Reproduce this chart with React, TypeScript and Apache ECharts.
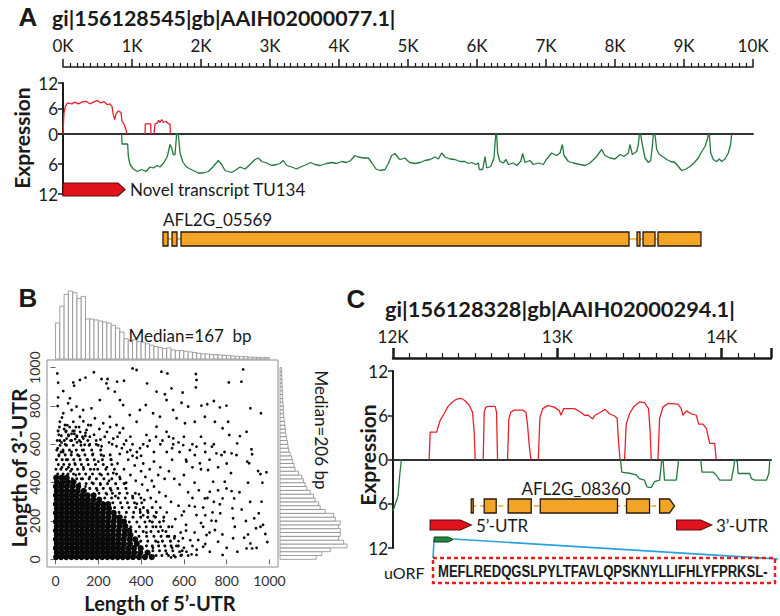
import React, { useEffect, useRef } from "react";
import * as echarts from "echarts";

const FONT = "Lato, 'Open Sans', 'DejaVu Sans', sans-serif";
const ARIAL = "'Liberation Sans', Arial, sans-serif";
const RED = "#E2232B";
const GREEN = "#23793E";
const ORANGE = "#F3A426";
const DARK = "#2A1A0C";
const ARROW_RED = "#E1121C";
const ARROW_EDGE = "#5E0B0B";
const INK = "#1a1a1a";
const BLUE = "#2AA3DC";

// ---------------- Panel A data ----------------
const A_TITLE = "gi|156128545|gb|AAIH02000077.1|";
const A_RANGE = [0, 10000];
const A_PLUS: (number | string)[][] = [
  [0, 0], [14, 4.9], [34, 6.5], [63, 7.3], [126, 7.1], [174, 7.5], [222, 7.1], [271, 7.5], [333, 7.7],
  [391, 7.1], [440, 7.5], [498, 7.9], [546, 7.3], [594, 7.6], [643, 6.9], [681, 7.1], [710, 6.5],
  [729, 4.5], [749, 3.4], [768, 4.8], [802, 5.4], [841, 5.1], [855, 3.0], [889, 2.2], [913, 1.0], [928, 0],
  [1000, "-"],
  [1188, 0], [1193, 2.4], [1271, 2.4], [1275, 0], [1297, "-"], [1319, 0], [1333, 2.4], [1367, 2.6],
  [1386, 3.2], [1406, 2.7], [1430, 3.4], [1454, 2.7], [1493, 3.0], [1527, 2.4], [1551, 2.4], [1556, 0],
];
const A_MINUS: (number | string)[][] = [
  [850, 0], [855, 2.0], [937, 2.0], [947, 4.5], [971, 6.1], [1019, 7.0], [1077, 7.5], [1140, 7.1],
  [1203, 7.5], [1261, 6.6], [1309, 6.8], [1367, 6.3], [1406, 6.6], [1454, 5.9], [1512, 4.5], [1551, 2.1],
  [1575, 2.8], [1599, 4.1], [1623, 4.1], [1647, 0], [1671, 0], [1696, 3.8], [1734, 5.5], [1783, 6.5],
  [1841, 7.0], [1889, 7.3], [1961, 7.8], [2034, 7.8], [2106, 7.5], [2179, 6.5], [2251, 5.3], [2300, 6.1],
  [2348, 7.3], [2396, 7.5], [2444, 7.7], [2493, 7.3], [2565, 6.6], [2638, 7.0], [2710, 6.1], [2783, 5.1],
  [2831, 4.8], [2879, 5.5], [2952, 5.8], [3024, 6.3], [3097, 6.1], [3145, 5.9], [3193, 5.3], [3242, 6.3],
  [3314, 6.6], [3386, 7.0], [3459, 6.5], [3531, 6.1], [3589, 5.7], [3652, 6.1], [3725, 6.3], [3821, 5.9],
  [3894, 5.7], [3966, 5.9], [4039, 5.5], [4111, 5.7], [4169, 5.3], [4232, 4.3], [4280, 4.6], [4353, 4.8],
  [4425, 4.8], [4473, 5.7], [4536, 7.0], [4594, 7.3], [4667, 7.1], [4715, 5.9], [4763, 4.3], [4812, 3.9],
  [4860, 4.8], [4884, 5.1], [4956, 4.8], [4990, 5.3], [5029, 5.7], [5101, 5.9], [5174, 5.7], [5246, 5.3],
  [5319, 5.1], [5391, 4.6], [5440, 5.0], [5488, 3.8], [5536, 4.6], [5609, 5.0], [5681, 5.1], [5754, 5.5],
  [5826, 5.5], [5874, 5.9], [5923, 5.7], [5985, 6.1], [6019, 5.8], [6034, 7.1], [6082, 7.1], [6116, 4.5],
  [6140, 6.8], [6198, 6.5], [6246, 4.8], [6271, 0.1], [6285, 0.1], [6299, 3.8], [6333, 5.5], [6382, 5.8],
  [6420, 5.1], [6454, 6.1], [6527, 5.8], [6575, 6.3], [6633, 5.5], [6662, 3.9], [6696, 5.7], [6768, 5.3],
  [6816, 6.1], [6889, 5.8], [6961, 6.1], [7010, 5.0], [7082, 3.8], [7155, 4.3], [7203, 3.8], [7237, 2.1],
  [7261, 4.3], [7324, 5.5], [7396, 5.8], [7493, 6.1], [7565, 6.3], [7638, 5.8], [7734, 4.5], [7807, 3.1],
  [7855, 4.3], [7928, 4.8], [8000, 5.0], [8073, 4.1], [8131, 4.5], [8193, 3.8], [8217, 2.1], [8251, 4.1],
  [8314, 3.5], [8338, 2.1], [8353, 0.1], [8372, 0.1], [8401, 2.5], [8435, 4.8], [8483, 5.7], [8517, 5.3],
  [8541, 2.5], [8555, 0.1], [8580, 0.1], [8604, 3.1], [8643, 4.1], [8701, 4.6], [8749, 5.1], [8807, 5.5],
  [8870, 5.7], [8918, 6.5], [8966, 7.3], [9029, 7.0], [9087, 6.5], [9145, 5.8], [9208, 4.8], [9256, 3.5],
  [9304, 2.5], [9338, 1.1], [9353, 0.1], [9367, 0.1], [9387, 3.8], [9425, 5.1], [9473, 5.5], [9512, 5.0],
  [9546, 5.5], [9594, 5.0], [9642, 3.8], [9676, 2.1], [9691, 0],
];
const A_NOVEL = [[0, 899]];
const A_GENE_SPAN = [[1449, 9246]];
const A_GENE_EXONS = [[1449, 1522], [1580, 1652], [1710, 8203], [8319, 8362], [8406, 8580], [8623, 9246]];

// ---------------- Panel B data ----------------
const HIST_BIN = 20;
const TOP_HIST = [107, 157, 192, 202, 197, 180, 186, 119, 119, 116, 113, 110, 107, 100, 92, 80, 60, 55, 57, 52,
  50, 45, 41, 37, 34, 31, 33, 27, 25, 25, 23, 21, 19, 17, 15, 15, 13, 13, 12, 11, 10, 9, 8, 7, 7, 6, 5, 5, 4, 4];
const RIGHT_HIST = [108, 125, 150, 200, 190, 175, 180, 180, 175, 180, 165, 160, 135, 120, 115, 105, 100, 90, 80, 75,
  70, 65, 55, 45, 42, 38, 35, 30, 26, 24, 22, 20, 18, 16, 15, 14, 12, 11, 10, 10, 9, 8, 8, 7, 7, 6, 6, 5, 5, 5];
const B_TICKS = [0, 200, 400, 600, 800, 1000];
// darkest core of the cloud: [3'-UTR length, 5'-UTR lengths]
const DENSE_ROWS: [number, number[]][] = [
  [12, [3, 26, 50, 74, 98, 122, 146, 170, 194, 218, 242, 266, 290, 314, 338, 362, 390, 418, 450]],
  [35, [6, 30, 54, 78, 102, 126, 150, 174, 198, 222, 246, 270, 294, 318, 342, 368, 396, 430]],
  [58, [2, 26, 50, 74, 98, 122, 146, 170, 194, 218, 242, 266, 290, 314, 340, 366, 398]],
  [81, [6, 30, 54, 78, 102, 126, 150, 174, 198, 222, 246, 270, 294, 320, 348, 380]],
  [104, [2, 26, 50, 74, 98, 122, 146, 170, 194, 218, 242, 266, 292, 318, 346, 372]],
  [127, [6, 30, 54, 78, 102, 126, 150, 174, 198, 222, 246, 270, 296, 324, 350]],
  [150, [2, 26, 50, 74, 98, 122, 146, 170, 194, 218, 242, 268, 294, 322, 345]],
  [173, [6, 30, 54, 78, 102, 126, 150, 174, 198, 222, 246, 272, 300, 326]],
  [196, [2, 26, 50, 74, 98, 122, 146, 170, 194, 218, 244, 270, 298, 320]],
  [219, [6, 30, 54, 78, 102, 126, 150, 174, 198, 222, 248, 276, 300]],
  [242, [2, 26, 50, 74, 98, 122, 146, 170, 194, 220, 246, 272]],
  [265, [6, 30, 54, 78, 102, 126, 150, 174, 198, 224, 250]],
  [288, [2, 26, 50, 74, 98, 122, 146, 170, 196, 222, 246]],
  [311, [6, 30, 54, 78, 102, 126, 150, 176, 204]],
  [334, [2, 26, 50, 74, 98, 124, 150, 178]],
  [357, [6, 30, 54, 78, 104, 132]],
  [380, [2, 26, 52, 78, 106]],
  [403, [6, 32, 58, 84]],
  [426, [3, 28, 52]],
];
// busy fringe around the core: [3'-UTR length, 5'-UTR lengths]
const FRINGE_ROWS: [number, number[]][] = [
  [20, [470, 497, 528, 553, 586]],
  [45, [455, 486, 515, 548, 592]],
  [70, [425, 452, 482, 511, 540, 574]],
  [95, [398, 431, 468, 500, 537]],
  [120, [390, 426, 460, 493, 522, 557]],
  [145, [375, 410, 446, 481, 516]],
  [170, [352, 392, 424, 455, 491, 529]],
  [195, [345, 380, 418, 452, 486]],
  [220, [326, 362, 398, 431, 467, 506]],
  [245, [297, 331, 365, 396, 432, 471]],
  [270, [276, 311, 343, 375, 411, 452]],
  [295, [268, 304, 336, 369, 403]],
  [320, [230, 262, 293, 326, 361, 399]],
  [345, [203, 236, 266, 299, 335, 373]],
  [370, [160, 191, 223, 256, 291, 329]],
  [395, [112, 143, 176, 209, 243, 281, 321]],
  [420, [78, 99, 126, 157, 191, 226, 263, 302]],
  [445, [10, 35, 58, 84, 111, 141, 173, 207, 245, 285]],
  [470, [2, 25, 51, 76, 103, 131, 163, 197, 235, 275]],
  [495, [13, 38, 65, 92, 121, 153, 187, 223, 263]],
  [520, [4, 31, 56, 85, 115, 147, 181, 219, 259]],
  [545, [16, 45, 73, 103, 137, 173, 213, 255]],
  [570, [6, 35, 65, 97, 131, 169, 211]],
  [595, [21, 51, 83, 119, 157, 199]],
  [620, [8, 41, 75, 111, 151]],
  [645, [27, 61, 99, 139]],
  [670, [12, 49, 87]],
];
const SCATTER_SPARSE = [
  [8, 970], [12, 922], [12, 845], [36, 878], [83, 923], [87, 906], [114, 936], [140, 948], [179, 976], [215, 941],
  [243, 941], [238, 918], [288, 927], [320, 932], [360, 996], [379, 988], [428, 918], [495, 979], [523, 970], [542, 892],
  [656, 967], [659, 936], [656, 897], [810, 923], [877, 991], [869, 927], [911, 788], [960, 762], [472, 875], [511, 861],
  [519, 831], [594, 870], [589, 817], [620, 797], [682, 802], [709, 809], [740, 826], [768, 793], [799, 802], [807, 718],
  [812, 649], [893, 666], [862, 643], [849, 605], [916, 574], [919, 548], [896, 510], [905, 501], [947, 461], [958, 445],
  [986, 454], [967, 400], [963, 301], [929, 214], [937, 162], [958, 170], [981, 132], [900, 130], [911, 83], [919, 57],
  [893, 57], [882, 113], [838, 170], [830, 214], [827, 266], [835, 318], [823, 356], [799, 370], [791, 405], [781, 318],
  [768, 287], [734, 245], [729, 202], [745, 153], [760, 92], [781, 23], [721, 40], [690, 66], [667, 101], [659, 23],
  [636, 26], [612, 40], [589, 23], [706, 127], [690, 170], [659, 231], [651, 275], [698, 318], [721, 353], [737, 405],
  [713, 466], [675, 501], [651, 544], [628, 570], [597, 596], [612, 510], [659, 588], [698, 605], [731, 588], [752, 553],
  [776, 544], [823, 553], [846, 544], [781, 684], [745, 718], [698, 744], [651, 718], [605, 710], [566, 736], [550, 779],
  [488, 744], [456, 762], [422, 805], [394, 779], [379, 718], [347, 753], [316, 805], [301, 831], [277, 875], [246, 892],
  [207, 831], [168, 788], [129, 779], [98, 797], [67, 840], [59, 814], [75, 779], [36, 762], [20, 718], [44, 701],
  [83, 718], [114, 744], [153, 701], [184, 736], [223, 710], [254, 744], [285, 701], [316, 684], [425, 649], [472, 692],
  [519, 666], [550, 631],
];
const SCATTER_MID = [
  [520, 30], [545, 60], [560, 12], [575, 95], [530, 120], [500, 150], [480, 90], [455, 60], [470, 170], [440, 200],
  [425, 140], [410, 230], [395, 260], [380, 290], [430, 255], [460, 225], [505, 200], [520, 245], [490, 270], [470, 300],
  [445, 320], [415, 310], [390, 340], [360, 330], [545, 170], [560, 210], [585, 140], [600, 60], [610, 180], [590, 230],
  [575, 280], [540, 300], [515, 330], [485, 350], [460, 380], [430, 360], [405, 390], [375, 410], [350, 440], [330, 400],
  [300, 430], [320, 470], [290, 500], [270, 450], [250, 410], [240, 480], [215, 440], [200, 510], [180, 470], [160, 430],
  [150, 520], [130, 480], [110, 540], [90, 500], [70, 460], [50, 520], [30, 480], [15, 540], [5, 430], [20, 400],
  [45, 420], [85, 410], [120, 420], [170, 400], [210, 390], [260, 360], [280, 330], [240, 340], [195, 360], [140, 380],
  [95, 440], [60, 480], [35, 560], [75, 560], [125, 570], [175, 550], [225, 540], [260, 520], [300, 550], [340, 520],
  [370, 490], [400, 460], [420, 430], [450, 410], [480, 440], [510, 420], [440, 470], [410, 500], [380, 530], [350, 570],
  [320, 600], [285, 590], [250, 610], [215, 590], [190, 620], [160, 600], [130, 630], [100, 610], [70, 620], [45, 600],
  [20, 620], [10, 580], [60, 650], [40, 680], [80, 670], [55, 700], [95, 690], [75, 655], [115, 665], [100, 640],
  [140, 660], [180, 650], [230, 640], [270, 630], [300, 660], [330, 620], [360, 600], [395, 580], [350, 640], [205, 680],
  [255, 690], [165, 700], [130, 720], [30, 740], [10, 800], [15, 650], [25, 560], [400, 540], [460, 510], [490, 480],
  [530, 460], [555, 420], [580, 390], [600, 440], [620, 350], [650, 400], [670, 360], [640, 320], [690, 270], [700, 230],
  [680, 190], [650, 140], [630, 100], [660, 50], [700, 80], [720, 140], [750, 200], [770, 240], [740, 300], [710, 320],
  [760, 360], [780, 130], [800, 60], [830, 110], [850, 40], [870, 260], [890, 200], [910, 300], [950, 240], [970, 180],
  [940, 60], [990, 90], [860, 350], [900, 400], [820, 450], [800, 500], [760, 480], [720, 520], [680, 470], [640, 480],
  [610, 520], [580, 560], [545, 520], [520, 560], [490, 600], [460, 560], [430, 590], [550, 600], [600, 640], [640, 600],
  [680, 640], [700, 560], [740, 600], [790, 560],
  [18, 690], [48, 665], [66, 690], [88, 655], [110, 690], [126, 640], [145, 675], [28, 610], [52, 630], [92, 628],
  [118, 612], [136, 598], [160, 640], [190, 600], [210, 625], [240, 665], [265, 600], [290, 640], [310, 580], [335, 560],
  [360, 540], [380, 560], [410, 600], [440, 620], [470, 640], [500, 620], [530, 640], [545, 580], [575, 610],
  [555, 110], [580, 40], [540, 10], [565, 70], [595, 110], [620, 20], [640, 70], [610, 150], [600, 250], [625, 280],
];

// ---------------- Panel C data ----------------
const C_TITLE = "gi|156128328|gb|AAIH02000294.1|";
const C_RANGE = [12000, 14300];
const C_PLUS: (number | string)[][] = [
  [12220, 0], [12226, 3.7], [12266, 3.7], [12274, 4.4], [12287, 5.3], [12311, 6.2], [12335, 7.2], [12362, 7.8],
  [12388, 8.2], [12413, 8.3], [12437, 8.0], [12463, 7.4], [12484, 6.4], [12494, 3.7], [12500, 0], [12525, "-"],
  [12549, 0], [12555, 6.4], [12565, 7.1], [12585, 7.2], [12622, 7.2], [12630, 6.4], [12636, 0], [12660, "-"],
  [12697, 0], [12705, 5.5], [12717, 6.4], [12738, 6.7], [12789, 6.7], [12809, 6.4], [12819, 4.6], [12829, 1.9],
  [12839, 0], [12860, "-"],
  [12884, 0], [12894, 5.7], [12911, 6.9], [12941, 7.3], [12982, 7.1], [13012, 6.6], [13022, 6.0], [13039, 6.9],
  [13073, 6.9], [13104, 6.9], [13144, 6.4], [13165, 6.0], [13189, 6.0], [13215, 5.5], [13230, 6.0], [13262, 6.4],
  [13291, 6.8], [13317, 6.2], [13348, 5.9], [13364, 5.6], [13372, 2.4], [13382, 0], [13395, "-"],
  [13409, 0], [13419, 4.8], [13439, 6.2], [13466, 7.2], [13500, 7.8], [13530, 7.7], [13555, 6.9], [13565, 3.7],
  [13571, 0], [13590, "-"],
  [13612, 0], [13622, 5.5], [13642, 7.1], [13673, 7.6], [13734, 7.5], [13754, 6.9], [13764, 6.0], [13785, 6.6],
  [13815, 6.2], [13846, 6.0], [13860, 4.8], [13886, 4.8], [13907, 4.2], [13927, 2.2], [13957, 2.2], [13967, 0],
];
const C_MINUS: (number | string)[][] = [
  [12000, 7.0], [12016, 5.9], [12030, 5.0], [12041, 2.1], [12051, 0], [12200, "-"],
  [13384, 0], [13392, 1.7], [13449, 1.9], [13480, 2.1], [13500, 2.6], [13530, 2.8], [13545, 3.7], [13571, 3.8],
  [13591, 3.0], [13622, 2.8], [13632, 0.8], [13636, 0], [13644, 0.3], [13652, 2.8], [13724, 2.8], [13734, 0.8],
  [13738, 0], [13800, "-"],
  [13872, 0], [13880, 1.7], [13947, 1.7], [13967, 2.1], [13988, 2.8], [14059, 2.8], [14075, 0.8], [14079, 0],
  [14095, 0.3], [14100, 1.9], [14170, 1.9], [14181, 2.6], [14201, 2.8], [14272, 2.8], [14287, 1.9], [14293, 0],
];
const C_GENE_SPAN = [[12476, 13622]];
const C_EXONS = [[12476, 12488], [12555, 12628], [12701, 12841], [12896, 13366], [13421, 13561]];
const C_LAST_EXON = [[13622, 13713]];
const C_UTRS = [[12226, 12476], [13726, 13939]];
const C_UORF = [[12250, 12366]];
const UORF_PEPTIDE = "MEFLREDQGSLPYLTFAVLQPSKNYLLIFHLYFPRKSL-";

// ---------------- layout constants ----------------
const L = {
  aNovelY: 183, aNovelH: 13, aExonY: 232, aExonH: 14,
  cExonY: 499, cExonH: 14, cUtrY: 520, cUtrH: 10, cUorfY: 537, cUorfH: 5,
  box: { x: 433, y: 558, w: 342, h: 25 },
};

const xOf = (api: any, v: number) => api.coord([v, 0])[0];

function arrowShape(x1: number, x2: number, y: number, h: number, tip: number) {
  const xt = Math.max(x1, x2 - tip);
  return [[x1, y], [xt, y], [x2, y + h / 2], [xt, y + h], [x1, y + h]];
}

function txt(text: string, x: number, y: number, size: number, o: any = {}) {
  return {
    type: "text", x, y, rotation: o.rot || 0, scaleX: o.sx || 1, z: 20,
    style: {
      text, fontSize: size, fontFamily: o.ff || FONT, fontWeight: o.bold ? "bold" : "normal",
      fill: o.color || INK, align: o.align || "left", verticalAlign: "middle",
    },
  };
}

function rowsToPoints(rows: [number, number[]][]) {
  const pts: number[][] = [];
  rows.forEach(([y, xs]) => xs.forEach((x) => pts.push([x, y])));
  return pts;
}

function buildOption() {
  const dense = rowsToPoints(DENSE_ROWS);
  const fringe = rowsToPoints(FRINGE_ROWS);
  const topHist = TOP_HIST.map((c, i) => [i * HIST_BIN, (i + 1) * HIST_BIN, c]);
  const rightHist = RIGHT_HIST.map((c, i) => [c, i * HIST_BIN, (i + 1) * HIST_BIN]);
  const cMinus = C_MINUS.map(([x, v]) => [x, v === "-" ? "-" : -(v as number)]);

  const hidden = { show: false };
  const baseX = (gridIndex: number, min: number, max: number, extra: any = {}) => ({
    type: "value", gridIndex, min, max, axisLine: { show: false }, axisTick: hidden, axisLabel: hidden,
    splitLine: hidden, ...extra,
  });

  const exprY = (gridIndex: number, min: number, max: number, extra: any = {}) => ({
    type: "value", gridIndex, min, max, interval: 6,
    axisLine: { show: true, lineStyle: { color: INK, width: 2 } },
    axisTick: { show: true, length: 5, lineStyle: { color: INK, width: 1.5 } },
    axisLabel: { fontSize: 17, color: INK, fontFamily: FONT, margin: 5, formatter: (v: number) => String(Math.abs(v)) },
    splitLine: hidden, ...extra,
  });

  const ruler = (gridIndex: number, min: number, max: number, major: number, minor: number, lw: number) => ({
    type: "value", gridIndex, position: "top", min, max, interval: 1000,
    axisLine: { show: true, onZero: false, lineStyle: { color: INK, width: lw } },
    axisTick: { show: true, length: major, lineStyle: { color: INK, width: lw } },
    minorTick: { show: true, splitNumber: 10, length: minor, lineStyle: { color: INK, width: 1.2 } },
    axisLabel: {
      fontSize: 17, color: INK, fontFamily: FONT, margin: 13, showMaxLabel: max % 1000 === 0,
      formatter: (v: number) => (v % 1000 === 0 ? v / 1000 + "K" : ""),
    },
    splitLine: hidden, minorSplitLine: hidden,
  });

  const dot = { color: "#0a0a0a", opacity: 1 };

  const option: any = {
    animation: false,
    backgroundColor: "#ffffff",
    grid: [
      { left: 63, width: 690, top: 67, height: 1 },
      { left: 63, width: 690, top: 83, height: 51 },
      { left: 63, width: 690, top: 134, height: 60 },
      { left: 47, width: 231, top: 291, height: 68 },
      { left: 47, width: 231, top: 360, height: 207, show: true, borderColor: "#8c8c8c", borderWidth: 1 },
      { left: 280, width: 67, top: 360, height: 207 },
      { left: 393, width: 378, top: 358, height: 1 },
      { left: 393, width: 378, top: 371, height: 177 },
    ],
    xAxis: [
      ruler(0, A_RANGE[0], A_RANGE[1], 8, 4, 1.5),
      baseX(1, A_RANGE[0], A_RANGE[1]),
      baseX(2, A_RANGE[0], A_RANGE[1], {
        position: "top", axisLine: { show: true, onZero: false, lineStyle: { color: "#333", width: 2 } },
      }),
      baseX(3, -40, 1040),
      {
        type: "value", gridIndex: 4, min: -40, max: 1040,
        axisLine: { show: false },
        axisTick: { show: true, length: 5, customValues: B_TICKS, lineStyle: { color: "#666" } },
        axisLabel: { show: true, customValues: B_TICKS, fontSize: 14, color: "#333", fontFamily: FONT, margin: 6,
          formatter: (v: number) => String(v) },
        splitLine: hidden,
      },
      baseX(5, 0, 200),
      ruler(6, C_RANGE[0], C_RANGE[1], 10, 5, 2.5),
      baseX(7, C_RANGE[0], C_RANGE[1], {
        axisLine: { show: true, onZero: true, lineStyle: { color: "#333", width: 2 } },
      }),
    ],
    yAxis: [
      baseX(0, 0, 1),
      exprY(1, 0, 12),
      exprY(2, 0, 12, {
        inverse: true,
        axisLabel: { fontSize: 17, color: INK, fontFamily: FONT, margin: 5, formatter: (v: number) => (v === 0 ? "" : String(v)) },
      }),
      baseX(3, 0, 202),
      {
        type: "value", gridIndex: 4, min: -40, max: 1040,
        axisLine: { show: false },
        axisTick: { show: true, length: 5, customValues: B_TICKS, lineStyle: { color: "#666" } },
        axisLabel: { show: true, customValues: B_TICKS, fontSize: 14, color: "#333", fontFamily: FONT, margin: 6, rotate: 90,
          formatter: (v: number) => String(v) },
        splitLine: hidden,
      },
      baseX(5, -40, 1040),
      baseX(6, 0, 1),
      exprY(7, -12, 12),
    ],
    series: [
      // Panel A coverage
      { type: "line", xAxisIndex: 1, yAxisIndex: 1, data: A_PLUS, symbol: "none", silent: true,
        lineStyle: { color: RED, width: 1.3 }, z: 3 },
      { type: "line", xAxisIndex: 2, yAxisIndex: 2, data: A_MINUS, symbol: "none", silent: true,
        lineStyle: { color: GREEN, width: 1.3 }, z: 3 },
      // Panel A features
      { type: "custom", xAxisIndex: 2, yAxisIndex: 2, data: A_NOVEL, silent: true, z: 6,
        renderItem: (_p: any, api: any) => ({ type: "polygon",
          shape: { points: arrowShape(xOf(api, api.value(0)), xOf(api, api.value(1)), L.aNovelY, L.aNovelH, 7) },
          style: { fill: ARROW_RED, stroke: ARROW_EDGE, lineWidth: 1.2 } }) },
      { type: "custom", xAxisIndex: 2, yAxisIndex: 2, data: A_GENE_SPAN, silent: true, z: 5,
        renderItem: (_p: any, api: any) => ({ type: "line",
          shape: { x1: xOf(api, api.value(0)), y1: L.aExonY + L.aExonH / 2, x2: xOf(api, api.value(1)), y2: L.aExonY + L.aExonH / 2 },
          style: { stroke: ORANGE, lineWidth: 1.3 } }) },
      { type: "custom", xAxisIndex: 2, yAxisIndex: 2, data: A_GENE_EXONS, silent: true, z: 6,
        renderItem: (_p: any, api: any) => {
          const x1 = xOf(api, api.value(0)), x2 = xOf(api, api.value(1));
          return { type: "rect", shape: { x: x1, y: L.aExonY, width: Math.max(x2 - x1, 2), height: L.aExonH },
            style: { fill: ORANGE, stroke: DARK, lineWidth: 1.3 } };
        } },
      // Panel B
      { type: "custom", xAxisIndex: 3, yAxisIndex: 3, data: topHist, silent: true,
        renderItem: (_p: any, api: any) => {
          const a = api.coord([api.value(0), api.value(2)]);
          const b = api.coord([api.value(1), 0]);
          return { type: "rect", shape: { x: a[0], y: a[1], width: b[0] - a[0], height: b[1] - a[1] },
            style: { fill: "#ffffff", stroke: "#8a8a8a", lineWidth: 0.8 } };
        } },
      { type: "scatter", xAxisIndex: 4, yAxisIndex: 4, data: dense, symbolSize: 6.2, silent: true, itemStyle: dot },
      { type: "scatter", xAxisIndex: 4, yAxisIndex: 4, data: fringe, symbolSize: 3, silent: true, itemStyle: dot },
      { type: "scatter", xAxisIndex: 4, yAxisIndex: 4, data: SCATTER_MID, symbolSize: 2.8, silent: true, itemStyle: dot },
      { type: "scatter", xAxisIndex: 4, yAxisIndex: 4, data: SCATTER_SPARSE, symbolSize: 2.8, silent: true, itemStyle: dot },
      { type: "custom", xAxisIndex: 5, yAxisIndex: 5, data: rightHist, silent: true,
        renderItem: (_p: any, api: any) => {
          const a = api.coord([0, api.value(2)]);
          const b = api.coord([api.value(0), api.value(1)]);
          return { type: "rect", shape: { x: a[0], y: a[1], width: b[0] - a[0], height: b[1] - a[1] },
            style: { fill: "#ffffff", stroke: "#8a8a8a", lineWidth: 0.8 } };
        } },
      // Panel C coverage
      { type: "line", xAxisIndex: 7, yAxisIndex: 7, data: C_PLUS, symbol: "none", silent: true,
        lineStyle: { color: RED, width: 1.3 }, z: 3 },
      { type: "line", xAxisIndex: 7, yAxisIndex: 7, data: cMinus, symbol: "none", silent: true,
        lineStyle: { color: GREEN, width: 1.3 }, z: 3 },
      // Panel C features
      { type: "custom", xAxisIndex: 7, yAxisIndex: 7, data: C_GENE_SPAN, silent: true, z: 5,
        renderItem: (_p: any, api: any) => ({ type: "line",
          shape: { x1: xOf(api, api.value(0)), y1: L.cExonY + L.cExonH / 2, x2: xOf(api, api.value(1)), y2: L.cExonY + L.cExonH / 2 },
          style: { stroke: ORANGE, lineWidth: 1.4, lineDash: [5, 4] } }) },
      { type: "custom", xAxisIndex: 7, yAxisIndex: 7, data: C_EXONS, silent: true, z: 6,
        renderItem: (_p: any, api: any) => {
          const x1 = xOf(api, api.value(0)), x2 = xOf(api, api.value(1));
          return { type: "rect", shape: { x: x1, y: L.cExonY, width: Math.max(x2 - x1, 2), height: L.cExonH },
            style: { fill: ORANGE, stroke: DARK, lineWidth: 1.3 } };
        } },
      { type: "custom", xAxisIndex: 7, yAxisIndex: 7, data: C_LAST_EXON, silent: true, z: 6,
        renderItem: (_p: any, api: any) => ({ type: "polygon",
          shape: { points: arrowShape(xOf(api, api.value(0)), xOf(api, api.value(1)), L.cExonY, L.cExonH, 5) },
          style: { fill: ORANGE, stroke: DARK, lineWidth: 1.3 } }) },
      { type: "custom", xAxisIndex: 7, yAxisIndex: 7, data: C_UTRS, silent: true, z: 6,
        renderItem: (_p: any, api: any) => ({ type: "polygon",
          shape: { points: arrowShape(xOf(api, api.value(0)), xOf(api, api.value(1)), L.cUtrY, L.cUtrH, 11) },
          style: { fill: ARROW_RED, stroke: ARROW_EDGE, lineWidth: 1.2 } }) },
      { type: "custom", xAxisIndex: 7, yAxisIndex: 7, data: C_UORF, silent: true, z: 6,
        renderItem: (_p: any, api: any) => {
          const x1 = xOf(api, api.value(0)), x2 = xOf(api, api.value(1));
          const b = L.box;
          return { type: "group", children: [
            { type: "line", shape: { x1, y1: L.cUorfY + 3, x2: b.x, y2: b.y }, style: { stroke: BLUE, lineWidth: 1.6 } },
            { type: "line", shape: { x1: x2, y1: L.cUorfY + 2, x2: b.x + b.w + 3, y2: b.y + 1 }, style: { stroke: BLUE, lineWidth: 1.6 } },
            { type: "polygon", shape: { points: arrowShape(x1, x2, L.cUorfY, L.cUorfH, 5) },
              style: { fill: "#1F8A3C", stroke: "#0E3B1A", lineWidth: 1 } },
          ] };
        } },
    ],
    graphic: [
      txt("A", 28, 17, 26, { bold: true, ff: ARIAL, align: "center" }),
      txt(A_TITLE, 52, 18, 21.4, { bold: true }),
      txt("Expression", 21, 138, 21, { bold: true, rot: Math.PI / 2, align: "center" }),
      txt("Novel transcript TU134", 130, 189, 17),
      txt("AFL2G_05569", 163, 219, 17),
      txt("B", 28, 298, 26, { bold: true, ff: ARIAL, align: "center" }),
      txt("Median=167  bp", 190, 335, 17, { align: "center" }),
      txt("Median=206 bp", 321, 430, 17, { align: "center", rot: -Math.PI / 2 }),
      txt("Length of 3\u2019-UTR", 18, 468, 21, { bold: true, rot: Math.PI / 2, align: "center" }),
      txt("Length of 5\u2019-UTR", 160, 603, 20, { bold: true, align: "center" }),
      txt("C", 356, 299, 26, { bold: true, ff: ARIAL, align: "center" }),
      txt(C_TITLE, 385, 308, 21.8, { bold: true }),
      txt("Expression", 367, 455, 21, { bold: true, rot: Math.PI / 2, align: "center" }),
      txt("AFL2G_08360", 576, 488, 17, { align: "center" }),
      txt("5\u2019-UTR", 476, 525, 17),
      txt("3\u2019-UTR", 716, 525, 17),
      txt("uORF", 384, 572, 16),
      txt(UORF_PEPTIDE, 438, 571, 17, { bold: true, ff: ARIAL, sx: 0.77 }),
      { type: "rect", z: 19, shape: { x: L.box.x, y: L.box.y, width: L.box.w, height: L.box.h },
        style: { fill: "none", stroke: "#E3211C", lineWidth: 2.5, lineDash: [4, 3] } },
    ],
  };
  return option;
}

export default function App() {
  const ref = useRef<HTMLDivElement>(null);
  useEffect(() => {
    const chart = echarts.init(ref.current!, null, { renderer: "svg" });
    chart.setOption(buildOption());
    return () => chart.dispose();
  }, []);
  return <div ref={ref} style={{ position: "fixed", left: 0, top: 0, width: 780, height: 616 }} />;
}
